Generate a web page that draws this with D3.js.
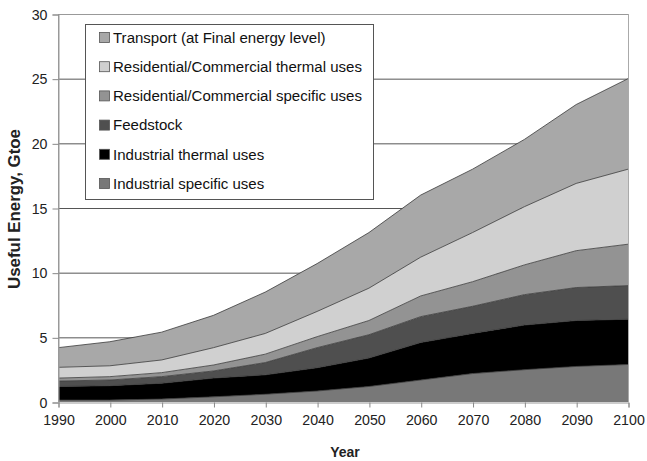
<!DOCTYPE html>
<html><head><meta charset="utf-8">
<script src="https://cdn.jsdelivr.net/npm/d3@7/dist/d3.min.js"></script>
<style>body{margin:0;background:#fff}svg{display:block}text{font-family:"Liberation Sans",Arial,sans-serif}</style>
</head><body><svg id="c" width="647" height="461"></svg>
<script>
const years = [1990,2000,2010,2020,2030,2040,2050,2060,2070,2080,2090,2100];
const industrialSpecific = [0.15,0.15,0.23,0.4,0.6,0.85,1.2,1.7,2.2,2.5,2.75,2.9];
const industrialThermal  = [1.05,1.11,1.22,1.45,1.5,1.8,2.2,2.9,3.1,3.45,3.55,3.5];
const feedstock          = [0.42,0.44,0.51,0.55,0.95,1.55,1.8,2.0,2.1,2.35,2.55,2.6];
const resComSpecific     = [0.23,0.26,0.31,0.46,0.65,0.85,1.1,1.6,1.9,2.3,2.85,3.2];
const resComThermal      = [0.83,0.84,0.98,1.34,1.6,1.95,2.5,3.0,3.8,4.5,5.2,5.8];
const transport          = [1.52,1.86,2.15,2.5,3.2,3.7,4.3,4.8,4.9,5.2,6.1,7.0];
const seriesNames = ["Industrial specific uses","Industrial thermal uses","Feedstock","Residential/Commercial specific uses","Residential/Commercial thermal uses","Transport (at Final energy level)"];
const seriesColors = ["#787878","#000000","#4f4f4f","#939393","#d0d0d0","#a8a8a8"];
const yTicks = [0,5,10,15,20,25,30];

const seriesVals = [industrialSpecific,industrialThermal,feedstock,resComSpecific,resComThermal,transport];
const table = years.map((y,i)=>{const o={year:y};seriesNames.forEach((n,k)=>o[n]=seriesVals[k][i]);return o;});

const svg = d3.select("#c");
const L=58,R=628,T=14,B=402;
const x = d3.scaleLinear().domain([1990,2100]).range([L,R]);
const y = d3.scaleLinear().domain([0,30]).range([B,T]);

// fit a text element's font size to a target width
function fit(sel, target){
  const fs = +sel.attr("font-size");
  const w = sel.node().getComputedTextLength();
  if (w>0) sel.attr("font-size", (fs*target/w).toFixed(2));
  return +sel.attr("font-size");
}

// gridlines
svg.append("g").selectAll("line").data(yTicks.filter(d=>d>0)).join("line")
  .attr("x1",L).attr("x2",R).attr("y1",d=>y(d)+0.5).attr("y2",d=>y(d)+0.5)
  .attr("stroke",d=>d===30?"#999":"#555").attr("stroke-width",1);

const stack = d3.stack().keys(seriesNames);
const layers = stack(table);
const area = d3.area().x(d=>x(d.data.year)).y0(d=>y(d[0])).y1(d=>y(d[1]));
const line = d3.line().x(d=>x(d.data.year)).y(d=>y(d[1]));
svg.append("g").selectAll("path").data(layers).join("path")
  .attr("d",area).attr("fill",(d,i)=>seriesColors[i]);
svg.append("g").selectAll("path").data(layers).join("path")
  .attr("d",line).attr("fill","none").attr("stroke","#3a3a3a").attr("stroke-width",0.8);

// plot border (left/right)
svg.append("line").attr("x1",L+0.5).attr("x2",L+0.5).attr("y1",T).attr("y2",B).attr("stroke","#999");
svg.append("line").attr("x1",R+0.5).attr("x2",R+0.5).attr("y1",T).attr("y2",B).attr("stroke","#aaa");

// axes
const yAxis = svg.append("g").attr("transform",`translate(${L+0.5},0.5)`)
  .call(d3.axisLeft(y).tickValues(yTicks).tickSize(6).tickPadding(5));
const xAxis = svg.append("g").attr("transform",`translate(0.5,${B+0.5})`)
  .call(d3.axisBottom(x).tickValues(years).tickFormat(d3.format("d")).tickSize(5).tickPadding(7));
[yAxis,xAxis].forEach(g=>{
  g.select(".domain").attr("stroke","#999");
  g.selectAll(".tick line").attr("stroke","#888");
  g.selectAll(".tick text").attr("font-size",14.2).attr("fill","#222");
});

svg.append("text").attr("x",345).attr("y",457).attr("text-anchor","middle")
  .attr("font-weight","bold").attr("font-size",14).attr("fill","#222").text("Year");
const yt = svg.append("text").attr("transform","translate(20,209) rotate(-90)").attr("text-anchor","middle")
  .attr("font-weight","bold").attr("font-size",15).attr("fill","#222").text("Useful Energy, Gtoe");
fit(yt,160);

// legend
const lg = svg.append("g");
lg.append("rect").attr("x",85.5).attr("y",24.5).attr("width",288).attr("height",175)
  .attr("fill","#fff").attr("stroke","#555");
const order = d3.range(seriesNames.length).reverse();
const texts = [];
order.forEach((k,j)=>{
  const cy = 38 + j*29.2;
  lg.append("rect").attr("x",99.5).attr("y",cy-5.5).attr("width",10).attr("height",10)
    .attr("fill",seriesColors[k]).attr("stroke","#555").attr("stroke-width",0.8);
  texts.push(lg.append("text").attr("x",113).attr("y",cy+4.8).attr("font-size",13.4).attr("fill","#111").text(seriesNames[k]));
});
const fs = fit(texts[1],249);
texts.forEach(t=>t.attr("font-size",fs));
</script></body></html>
